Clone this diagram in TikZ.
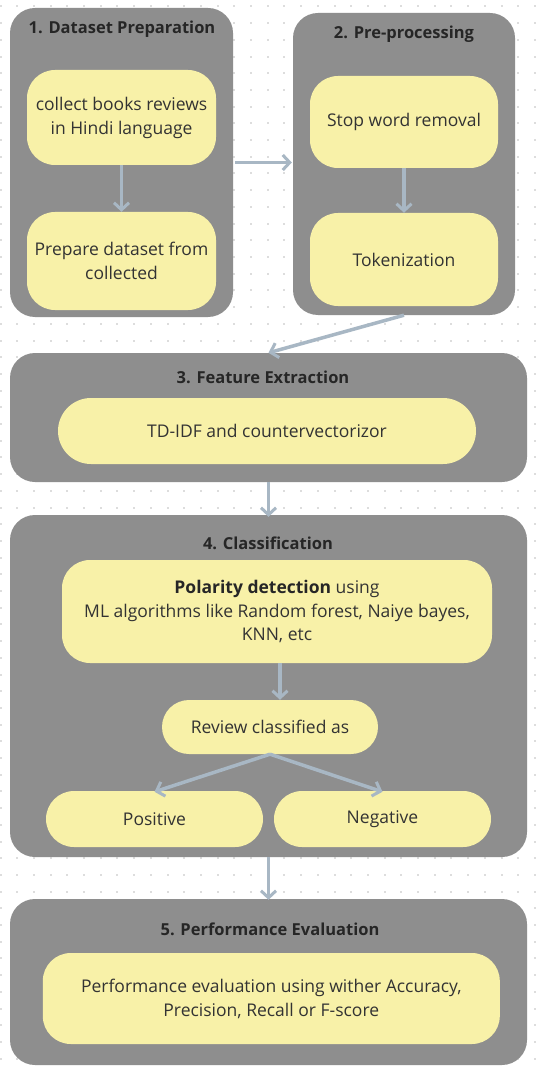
\documentclass[tikz,border=0pt]{standalone}
\usepackage{fontspec}
\setmainfont{Open Sans}
\usetikzlibrary{arrows.meta}
\definecolor{boxgray}{HTML}{8E8E8E}
\definecolor{nodeyellow}{HTML}{F8F1A8}
\definecolor{arrowblue}{HTML}{A8B7C4}
\definecolor{dotgray}{HTML}{DDDDDD}
\definecolor{txt}{HTML}{333333}
\tikzset{
  stagebox/.style={fill=boxgray, draw=none, rounded corners=25pt, inner sep=0pt},
  stepnode/.style={fill=nodeyellow, draw=none, rounded corners=28pt, inner sep=0pt, align=center, text=txt, font=\fontsize{17.5}{24}\selectfont},
  title/.style={font=\bfseries\fontsize{16.5}{18}\selectfont, text=black!85, inner sep=0pt},
  flow/.style={draw=arrowblue, line width=3.5pt, -{Straight Barb[length=7pt,width=15pt,line width=3pt]}}
}
\begin{document}
\begin{tikzpicture}[x=1pt,y=-1pt]
\useasboundingbox (0,0) rectangle (539,1067);
\fill[white] (0,0) rectangle (539,1067);
% dotted background
\foreach \i in {0,...,32}{
  \foreach \j in {0,...,64}{
    \fill[dotgray] ({0.5+16.7*\i-1},{6.5+16.7*\j-1}) rectangle ++(2,2);
  }
}
% stage boxes
\node[stagebox, minimum width=223pt, minimum height=309pt] (box1) at (121.5,162.5) {};
\node[stagebox, minimum width=222pt, minimum height=302pt] (box2) at (404,164) {};
\node[stagebox, minimum width=517pt, minimum height=129pt] (box3) at (268.5,417.5) {};
\node[stagebox, minimum width=517pt, minimum height=342pt] (box4) at (268.5,686) {};
\node[stagebox, minimum width=517pt, minimum height=166pt] (box5) at (268.5,982) {};
% titles
\node[title] (t1) at (122,29) {1. Dataset Preparation};
\node[title] (t2) at (404,34) {2. Pre-processing};
\node[title] (t3) at (263,377) {3. Feature Extraction};
\node[title] (t4) at (268,543) {4. Classification};
\node[title] (t5) at (270,929) {5. Performance Evaluation};
% steps
\node[stepnode, minimum width=189pt, minimum height=95pt] (a) at (121.5,117.5) {collect books reviews\\in Hindi language};
\node[stepnode, minimum width=189pt, minimum height=98pt] (b) at (121.5,261) {Prepare dataset from\\collected};
\node[stepnode, minimum width=188pt, minimum height=92pt] (c) at (404,122) {Stop word removal};
\node[stepnode, minimum width=188pt, minimum height=93pt] (d) at (404,259.5) {Tokenization};
\node[stepnode, minimum width=418pt, minimum height=66pt, rounded corners=33pt] (e) at (267,431) {TD-IDF and countervectorizor};
\node[stepnode, minimum width=430pt, minimum height=103pt, font=\fontsize{17.5}{23.5}\selectfont] (f) at (277,611.5) {{\bfseries\color{black!85}Polarity detection} using\\ML algorithms like Random forest, Naiye bayes,\\KNN, etc};
\node[stepnode, minimum width=216pt, minimum height=54pt, rounded corners=27pt] (g) at (270,727) {Review classified as};
\node[stepnode, minimum width=217pt, minimum height=56pt, rounded corners=28pt] (h) at (154.5,819) {Positive};
\node[stepnode, minimum width=217pt, minimum height=56pt, rounded corners=28pt] (i) at (382.5,819) {Negative};
\node[stepnode, minimum width=457pt, minimum height=91pt] (j) at (271.3,998.5) {Performance evaluation using wither Accuracy,\\Precision, Recall or F-score};
% connectors
\draw[flow] (a.south) -- (b.north);
\draw[flow] (c.south) -- (d.north);
\draw[flow] ([xshift=2pt]box1.east) -- ([xshift=-1pt]box1.east -| box2.west);
\draw[flow] (box2.south) -- (box3.north);
\draw[flow] (box3.south) -- ([yshift=-2pt]box4.north);
\draw[flow] ([xshift=3pt]f.south) -- ([xshift=3pt]f.south |- g.north);
\draw[flow] (g.south) -- ([yshift=-1pt]h.north);
\draw[flow] (g.south) -- ([yshift=-1pt]i.north);
\draw[flow] (box4.south) -- ([yshift=-1pt]box5.north);
\end{tikzpicture}
\end{document}
